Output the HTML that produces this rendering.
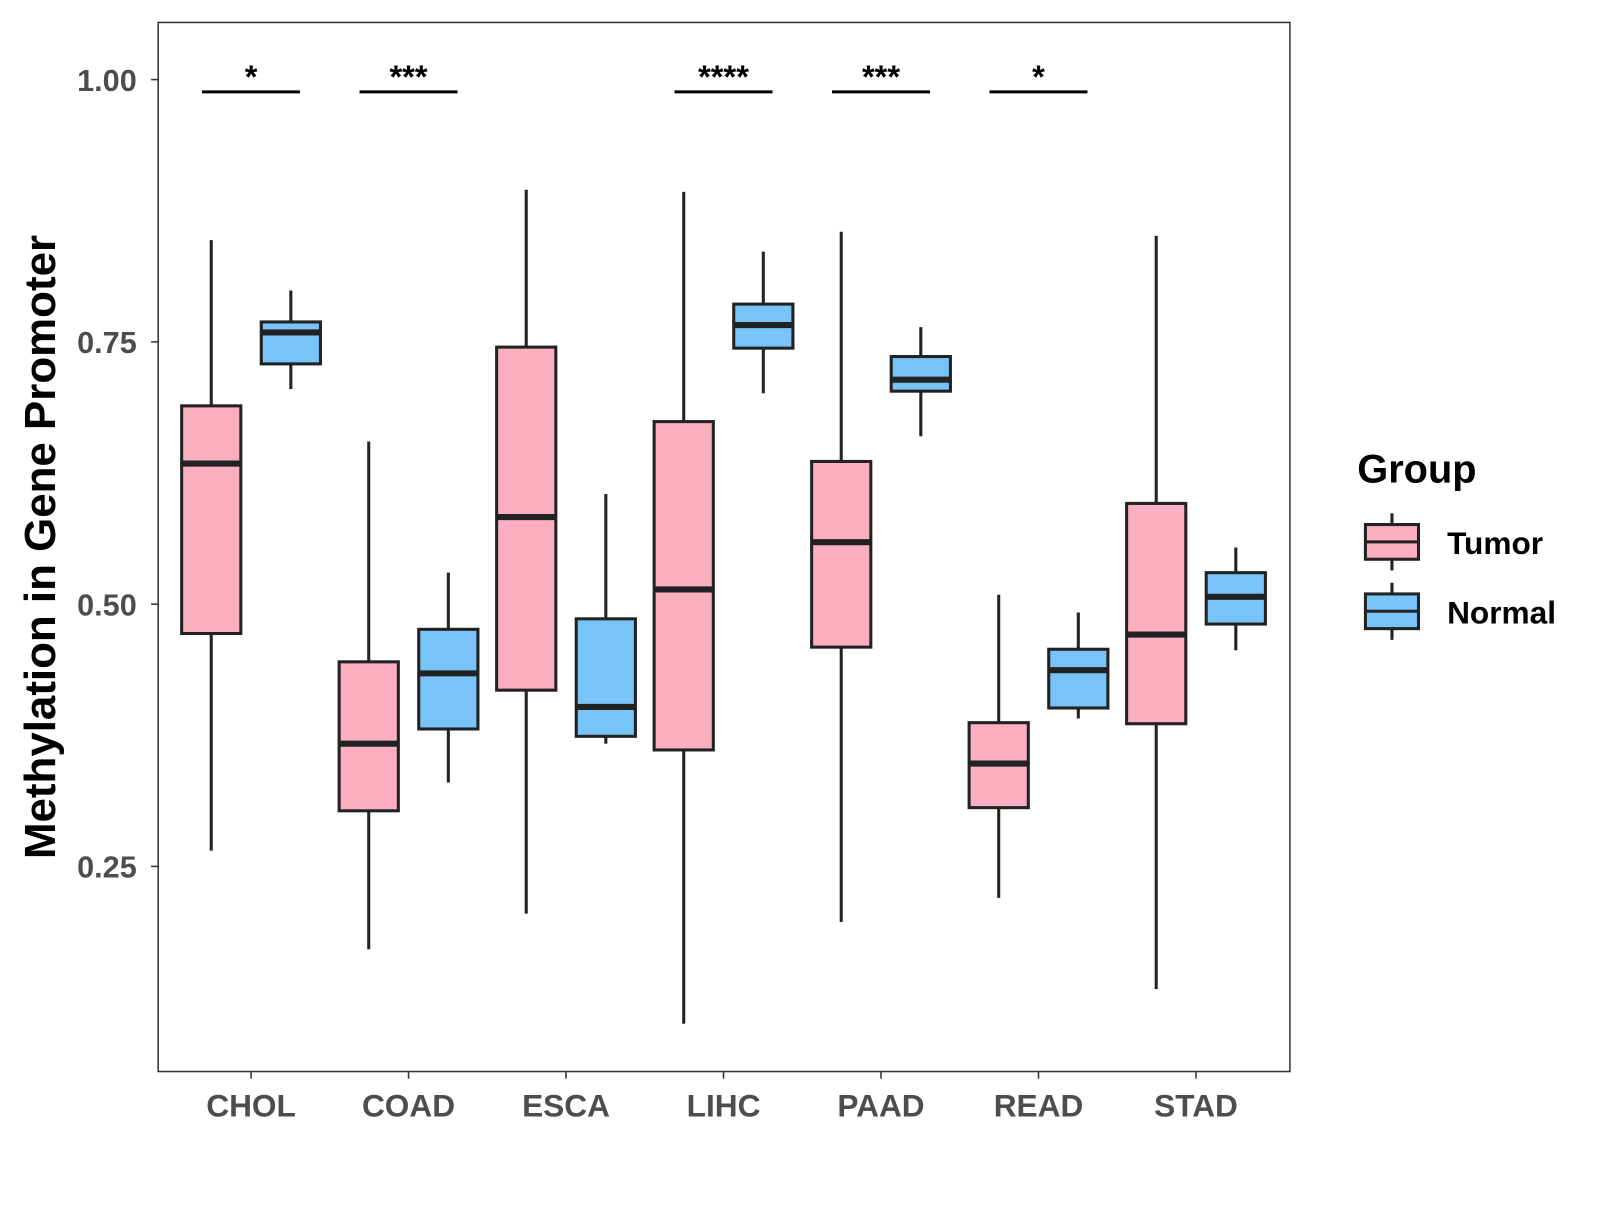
<!DOCTYPE html>
<html><head><meta charset="utf-8"><style>
html,body{margin:0;padding:0;background:#fff;}
svg text{font-family:"Liberation Sans",Arial,sans-serif;font-weight:bold;}
</style></head><body>
<svg id="chart" width="1600" height="1200" viewBox="0 0 1600 1200" xmlns="http://www.w3.org/2000/svg">
<rect x="0" y="0" width="1600" height="1200" fill="#fff"/>
<g transform="scale(1.0205)">
<rect x="155" y="22" width="1109" height="1028" fill="none" stroke="#333" stroke-width="1.5"/>
<g id="marks"></g>
<text transform="translate(54,536) rotate(-90)" text-anchor="middle" font-size="43" fill="#000">Methylation in Gene Promoter</text>
<text x="1330" y="473" font-size="39" fill="#000">Group</text>
<g>
<line x1="1364" y1="503" x2="1364" y2="559" stroke="#222" stroke-width="3"/>
<rect x="1338" y="514" width="52" height="34" fill="#fbafc0" stroke="#222" stroke-width="3"/>
<line x1="1338" y1="531" x2="1390" y2="531" stroke="#222" stroke-width="3"/>
<text x="1418" y="543" font-size="31" fill="#000">Tumor</text>
</g>
<g>
<line x1="1364" y1="571" x2="1364" y2="627" stroke="#222" stroke-width="3"/>
<rect x="1338" y="582" width="52" height="34" fill="#78c3f8" stroke="#222" stroke-width="3"/>
<line x1="1338" y1="599" x2="1390" y2="599" stroke="#222" stroke-width="3"/>
<text x="1418" y="611" font-size="31" fill="#000">Normal</text>
</g>
</g>
</svg>
<script>
const categories=["CHOL","COAD","ESCA","LIHC","PAAD","READ","STAD"];
const tumorStats=[[0.265,0.472,0.634,0.689,0.847],[0.171,0.303,0.367,0.445,0.655],[0.205,0.418,0.583,0.745,0.895],[0.100,0.361,0.514,0.674,0.893],[0.197,0.459,0.559,0.636,0.855],[0.220,0.306,0.348,0.387,0.509],[0.133,0.386,0.471,0.596,0.851]];
const normalStats=[[0.705,0.729,0.759,0.769,0.799],[0.330,0.381,0.434,0.476,0.530],[0.367,0.374,0.402,0.486,0.605],[0.701,0.744,0.766,0.786,0.836],[0.660,0.703,0.714,0.736,0.764],[0.391,0.401,0.437,0.457,0.492],[0.456,0.481,0.507,0.530,0.554]];
const signif=["*","***","","****","***","*",""];
const yTicks=[0.25,0.50,0.75,1.00];
const yTickLabels=["0.25","0.50","0.75","1.00"];

const NS="http://www.w3.org/2000/svg";
const g=document.getElementById('marks');
function yS(v){return 78+(1-v)*1028;}
function xS(i){return 246+i*154.33;}
function el(tag,attrs,parent){const e=document.createElementNS(NS,tag);for(const k in attrs)e.setAttribute(k,attrs[k]);(parent||g).appendChild(e);return e;}

yTicks.forEach((t,i)=>{
  const tk=el('line',{x1:148,x2:155,y1:yS(t),y2:yS(t),stroke:'#333','stroke-width':1.5});
  
  
  const lb=el('text',{x:134,y:yS(t)+11,'text-anchor':'end','font-size':30,fill:'#4d4d4d'});
  lb.textContent=yTickLabels[i];
  
  
});

function drawBox(cx,s,fill,name){
  const grp=el('g',{});
  
  
  el('line',{x1:cx,x2:cx,y1:yS(s[0]),y2:yS(s[4]),stroke:'#222','stroke-width':3},grp);
  el('rect',{x:cx-29,y:yS(s[3]),width:58,height:yS(s[1])-yS(s[3]),fill:fill,stroke:'#222','stroke-width':3},grp);
  el('line',{x1:cx-29,x2:cx+29,y1:yS(s[2]),y2:yS(s[2]),stroke:'#222','stroke-width':6},grp);
}

categories.forEach((c,i)=>{
  const cx=xS(i);
  drawBox(cx-39,tumorStats[i],'#fbafc0','box-tumor-'+c.toLowerCase());
  drawBox(cx+39,normalStats[i],'#78c3f8','box-normal-'+c.toLowerCase());
  const tk=el('line',{x1:cx,x2:cx,y1:1050,y2:1057,stroke:'#333','stroke-width':1.5});
  
  
  const lb=el('text',{x:cx,y:1094,'text-anchor':'middle','font-size':31,fill:'#4d4d4d'});
  lb.textContent=c;
  
  
  if(signif[i]){
    const ln=el('line',{x1:cx-48,x2:cx+48,y1:90,y2:90,stroke:'#000','stroke-width':3});
    
    
    const st=el('text',{x:cx,y:86,'text-anchor':'middle','font-size':32,fill:'#000'});
    st.textContent=signif[i];
    
    
  }
});
</script>
</body></html>
